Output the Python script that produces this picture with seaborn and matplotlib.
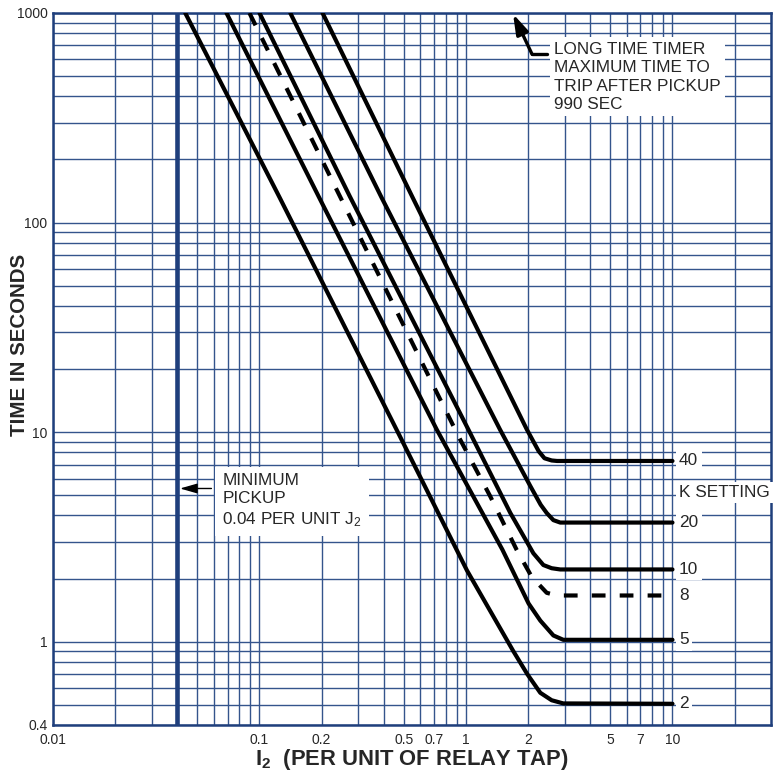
import matplotlib
matplotlib.use("Agg")
import numpy as np
import pandas as pd
import matplotlib.pyplot as plt
import seaborn as sns
from matplotlib.ticker import FixedLocator, FixedFormatter, NullFormatter

# ---------------- data ----------------
K_SETTINGS = [2, 5, 8, 10, 20, 40]

I2_K2 = [0.0437, 0.125, 0.478, 1.01, 1.69, 1.98, 2.29, 2.6, 2.96, 10]
T_K2 = [1000, 132, 9.57, 2.19, 0.905, 0.70, 0.57, 0.525, 0.507, 0.505]

I2_K5 = [0.0692, 0.195, 0.721, 1.5, 2.01, 2.29, 2.65, 2.96, 10]
T_K5 = [1000, 131, 10.3, 2.75, 1.52, 1.26, 1.07, 1.02, 1.02]

I2_K8 = [0.0894, 0.707, 0.935, 1.31, 1.76, 2.08, 2.46, 2.76, 10]
T_K8 = [1000, 16.1, 9.25, 4.94, 2.74, 2.04, 1.71, 1.66, 1.66]

I2_K10 = [0.1, 0.273, 1.026, 1.64, 2.12, 2.37, 2.6, 2.86, 10]
T_K10 = [1000, 134, 10.3, 4.11, 2.64, 2.32, 2.24, 2.21, 2.21]

I2_K20 = [0.141, 0.391, 1.46, 2.05, 2.3, 2.46, 2.65, 2.86, 10]
T_K20 = [1000, 131, 10.3, 5.52, 4.5, 4.11, 3.8, 3.70, 3.70]

I2_K40 = [0.202, 0.553, 1.97, 2.25, 2.4, 2.6, 2.76, 10]
T_K40 = [1000, 131, 10.3, 8.1, 7.5, 7.32, 7.28, 7.28]

CURVES_I2 = [I2_K2, I2_K5, I2_K8, I2_K10, I2_K20, I2_K40]
CURVES_T = [T_K2, T_K5, T_K8, T_K10, T_K20, T_K40]

X_TICKS = [0.01, 0.1, 0.2, 0.5, 0.7, 1, 2, 5, 7, 10]
X_TICK_LABELS = ["0.01", "0.1", "0.2", "0.5", "0.7", "1", "2", "5", "7", "10"]
Y_TICKS = [0.4, 1, 10, 100, 1000]
Y_TICK_LABELS = ["0.4", "1", "10", "100", "1000"]

X_GRID = [0.01, 0.02, 0.03, 0.04, 0.05, 0.06, 0.07, 0.08, 0.09,
          0.1, 0.2, 0.3, 0.4, 0.5, 0.6, 0.7, 0.8, 0.9,
          1, 2, 3, 4, 5, 6, 7, 8, 9, 10, 20]
Y_GRID = [0.4, 0.5, 0.6, 0.7, 0.8, 0.9,
          1, 2, 3, 4, 5, 6, 7, 8, 9,
          10, 20, 30, 40, 50, 60, 70, 80, 90,
          100, 200, 300, 400, 500, 600, 700, 800, 900, 1000]

MIN_PICKUP = 0.04
K_LABEL_Y = 5.15

# ---------------- style ----------------
sns.set_style("white")
plt.rcParams['font.family'] = ['Liberation Sans', 'DejaVu Sans']
plt.rcParams['mathtext.fontset'] = 'custom'
plt.rcParams['mathtext.rm'] = 'Liberation Sans'
plt.rcParams['mathtext.it'] = 'Liberation Sans:italic'
plt.rcParams['mathtext.bf'] = 'Liberation Sans:bold'

NAVY = '#1f3f7c'
GRID = '#34548c'

fig = plt.figure(figsize=(7.74, 7.74), dpi=100)
W = H = 774
ax = fig.add_axes([53 / W, 1 - 725 / H, (771 - 53) / W, (725 - 13) / H])
ax.set_xscale('log')
ax.set_yscale('log')
ax.set_xlim(0.01, 30)
ax.set_ylim(0.4, 1000)

# grid
ax.xaxis.set_major_locator(FixedLocator(X_TICKS))
ax.xaxis.set_major_formatter(FixedFormatter(X_TICK_LABELS))
ax.xaxis.set_minor_locator(FixedLocator(X_GRID))
ax.xaxis.set_minor_formatter(NullFormatter())
ax.yaxis.set_major_locator(FixedLocator(Y_TICKS))
ax.yaxis.set_major_formatter(FixedFormatter(Y_TICK_LABELS))
ax.yaxis.set_minor_locator(FixedLocator(Y_GRID))
ax.yaxis.set_minor_formatter(NullFormatter())
ax.grid(True, which='both', color=GRID, lw=1.0, alpha=1)
ax.set_axisbelow(True)
ax.tick_params(which='both', length=0)
ax.tick_params(axis='x', pad=6, labelsize=10)
ax.tick_params(axis='y', pad=4, labelsize=10)
for sp in ax.spines.values():
    sp.set_color(NAVY)
    sp.set_linewidth(1.8)
    sp.set_visible(True)

# minimum pickup line
ax.axvline(MIN_PICKUP, color=NAVY, lw=3.3, zorder=2)

# curves
rows = []
for k, xs, ts in zip(K_SETTINGS, CURVES_I2, CURVES_T):
    for i, (x, t) in enumerate(zip(xs, ts)):
        rows.append({'K': k, 'I2': x, 'T': t, 'order': i})
df = pd.DataFrame(rows)

for k in K_SETTINGS:
    sub = df[df['K'] == k]
    ls = (0, (3.3, 3.4)) if k == 8 else '-'
    sns.lineplot(data=sub, x='I2', y='T', ax=ax, color='black', lw=3.0,
                 estimator=None, sort=False, linestyle=ls, zorder=4,
                 solid_joinstyle='round', dash_joinstyle='round')

ax.set_xlabel('')
ax.set_ylabel('')

# K labels
box = dict(facecolor='white', edgecolor='none', pad=2.5)
for k, ts in zip(K_SETTINGS, CURVES_T):
    ax.text(10.75, ts[-1], str(k), ha='left', va='center', fontsize=12.4,
            bbox=box, zorder=5)
ax.text(10.75, K_LABEL_Y, 'K SETTING', ha='left', va='center', fontsize=12.4,
        bbox=box, zorder=5)

# minimum pickup annotation
ax.text(0.066, 4.7, "MINIMUM\nPICKUP\n0.04 PER UNIT J$_2$", ha='left', va='center',
        fontsize=12.3, linespacing=1.3,
        bbox=dict(facecolor='white', edgecolor='none', pad=5), zorder=5)
ax.annotate('', xy=(0.0412, 5.38), xytext=(0.0585, 5.38),
            arrowprops=dict(arrowstyle='-|>,head_length=0.7,head_width=0.2',
                            color='black', lw=1.0, mutation_scale=15,
                            shrinkA=0, shrinkB=0), zorder=6)

# long time timer annotation
ax.text(2.67, 495, "LONG TIME TIMER\nMAXIMUM TIME TO\nTRIP AFTER PICKUP\n990 SEC",
        ha='left', va='center', fontsize=12.3, linespacing=1.3,
        bbox=dict(facecolor='white', edgecolor='none', pad=3), zorder=5)
ax.plot([2.47, 2.09], [635, 635], color='black', lw=2.4, solid_capstyle='round',
        zorder=6)
ax.annotate('', xy=(1.69, 990), xytext=(2.09, 635),
            arrowprops=dict(arrowstyle='-|>,head_length=0.8,head_width=0.25',
                            color='black', lw=2.4, mutation_scale=15,
                            shrinkA=0, shrinkB=0, capstyle='round'),
            zorder=6, annotation_clip=False)

# axis titles
fig.text(412 / W, 1 - 765 / H, r"$\mathbf{I_2}$  (PER UNIT OF RELAY TAP)",
         ha='center', va='baseline', fontsize=15.8, fontweight='bold')
fig.text(20 / W, 1 - 345 / H, "TIME IN SECONDS", rotation=90, ha='center',
         va='center', fontsize=14.8, fontweight='bold')

fig.savefig('out.png', dpi=100)
